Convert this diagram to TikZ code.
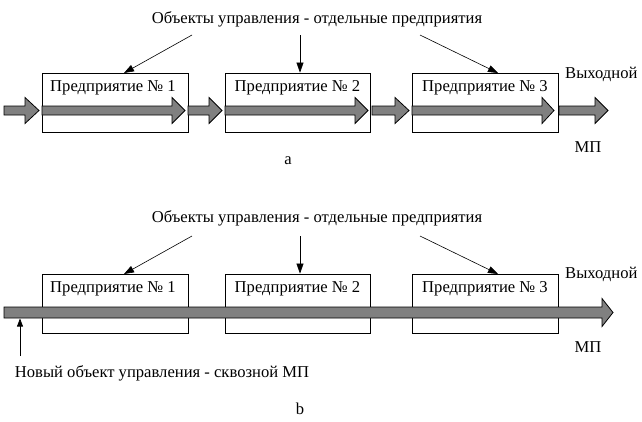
\documentclass[tikz,border=0pt]{standalone}
\usepackage{fontspec}
\setmainfont{Liberation Serif}
\usetikzlibrary{arrows.meta}
\newcommand\blockarr[6]{% x0, headstart, tip, yc, halfshaft, halfhead
  \filldraw[blockstyle] (#1,#4-#5) -- (#2,#4-#5) -- (#2,#4-#6) -- (#3,#4) -- (#2,#4+#6) -- (#2,#4+#5) -- (#1,#4+#5) -- cycle;}
\tikzset{
  blockstyle/.style={fill=black!50, draw=black, line width=0.8pt, line join=miter},
  ent/.style={draw=black, fill=white, line width=0.8pt, minimum width=146pt, minimum height=59pt, inner sep=0pt},
  txt/.style={font=\fontsize{16.6}{19}\selectfont, inner sep=0pt},
  thin/.style={line width=0.6pt, -{Triangle[length=10pt,width=7pt]}},
}
\begin{document}
\begin{tikzpicture}[x=1pt,y=-1pt]
\useasboundingbox (0,0) rectangle (642,421);
% ---------- part a ----------
\node[txt] (la) at (317,19) {Объекты управления - отдельные предприятия};
\node[ent] (a1) at (115,102.5) {};
\node[ent,minimum width=145pt] (a2) at (297.5,102.5) {};
\node[ent] (a3) at (485,102.5) {};
\node[txt] (ta1) at (113,88) {Предприятие № 1};
\node[txt] (ta2) at (297.5,88) {Предприятие № 2};
\node[txt] (ta3) at (485,88) {Предприятие № 3};
\blockarr{4}{25}{39}{110.5}{4.5}{13}
\blockarr{42}{172}{185}{110.5}{4.5}{13}
\blockarr{188}{209}{222}{110.5}{4.5}{13}
\blockarr{225}{355}{368}{110.5}{4.5}{13}
\blockarr{372}{395}{409}{110.5}{4.5}{13}
\blockarr{412}{542}{554}{110.5}{4.5}{13}
\blockarr{559}{595}{608}{110.5}{4.5}{13}
\coordinate (sa1) at (192,35);
\coordinate (sa2) at (300,35);
\coordinate (sa3) at (420,35);
\coordinate (ea1) at (124,73);
\coordinate (ea3) at (498,73);
\draw[thin] (sa1) -- (ea1);
\draw[thin] (sa2) -- (a2.north -| sa2);
\draw[thin] (sa3) -- (ea3);
\node[txt,anchor=west] (outa) at (565,74) {Выходной};
\node[txt] (mpa) at (588,147) {МП};
\node[txt] (capa) at (288,161) {a};
% ---------- part b ----------
\node[txt] (lb) at (317,218) {Объекты управления - отдельные предприятия};
\node[ent] (b1) at (115,303.5) {};
\node[ent,minimum width=145pt] (b2) at (297.5,303.5) {};
\node[ent] (b3) at (485,303.5) {};
\node[txt] (tb1) at (113,289) {Предприятие № 1};
\node[txt] (tb2) at (297.5,289) {Предприятие № 2};
\node[txt] (tb3) at (485,289) {Предприятие № 3};
\blockarr{4}{602}{613}{312.5}{5.5}{14}
\coordinate (sb1) at (192,236);
\coordinate (sb2) at (300,236);
\coordinate (sb3) at (420,236);
\coordinate (eb1) at (124,274);
\coordinate (eb3) at (498,274);
\draw[thin] (sb1) -- (eb1);
\draw[thin] (sb2) -- (b2.north -| sb2);
\draw[thin] (sb3) -- (eb3);
\node[txt,anchor=west] (outb) at (565,274) {Выходной};
\node[txt] (mpb) at (588,347) {МП};
\node[txt] (nb) at (162,373) {Новый объект управления - сквозной МП};
\coordinate (nbs) at (20,356);
\coordinate (nbe) at (20,318.5);
\draw[line width=0.6pt, -{Triangle[length=8pt,width=6pt]}] (nbs) -- (nbe);
\node[txt] (capb) at (300,409) {b};
\end{tikzpicture}
\end{document}
